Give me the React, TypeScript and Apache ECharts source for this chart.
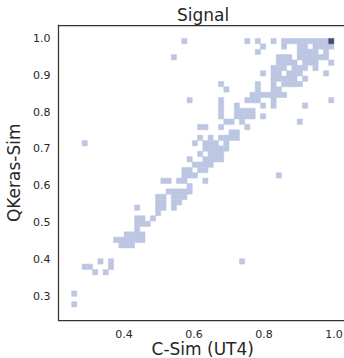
import React, { useEffect, useRef } from "react";
import * as echarts from "echarts";

// ---- Data ----
const TITLE = "Signal";
const X_LABEL = "C-Sim (UT4)";
const Y_LABEL = "QKeras-Sim";
const xTicks = [0.4, 0.6, 0.8, 1.0];
const yTicks = [0.3, 0.4, 0.5, 0.6, 0.7, 0.8, 0.9, 1.0];

// histogram bins (left/bottom edge of first bin and bin widths)
const X_EDGE0 = 0.25;
const X_BIN = 0.015;
const Y_EDGE0 = 0.27;
const Y_BIN = 0.0146;

// occupied bins: row index (y bin) -> list of column indices (x bins), count = 1
const rowCols: Record<number, number[]> = {
  0: [0],
  2: [0],
  6: [4, 6],
  7: [2, 3, 7],
  8: [5, 7, 32],
  11: [9, 10, 11],
  12: [8, 9, 10, 11, 12, 13],
  13: [10, 11, 12, 13],
  14: [12],
  15: [12, 13, 14],
  16: [12, 13, 15],
  17: [16],
  18: [12, 16, 17, 19],
  19: [16, 17, 19, 20],
  20: [16, 17, 19, 20, 21],
  21: [18, 19, 20, 21, 22],
  22: [22],
  23: [17, 18, 20, 21, 25],
  24: [21, 22, 23, 39],
  25: [21, 22, 24, 25],
  26: [23, 24, 25, 26],
  27: [22, 25, 26, 27, 28],
  28: [24, 26, 27, 28],
  29: [25, 26, 27, 28, 29],
  30: [2, 23, 25, 26, 27, 29],
  31: [24, 26, 28, 29, 30, 31],
  32: [30, 31],
  33: [24, 25, 28, 33],
  34: [29, 30, 32, 43],
  35: [28, 31, 32, 33, 34, 36],
  36: [28, 31, 32, 33, 34],
  37: [28, 31, 36, 38, 44],
  38: [22, 28, 33, 34, 35, 38, 49],
  39: [34, 35, 36, 37, 38, 39, 40],
  40: [29, 35, 38, 39],
  41: [28, 35, 38, 40, 41, 42, 43],
  42: [38, 39, 40, 41, 42, 44],
  43: [36, 38, 39, 41, 42, 43, 48],
  44: [38, 39, 40, 42, 43, 44, 46],
  45: [39, 40, 41, 42, 44, 45, 46, 49],
  46: [19, 39, 40, 41, 43, 44, 45, 46, 47, 48],
  47: [35, 43, 44, 45, 46, 48],
  48: [36, 40, 43, 44, 46, 47, 48, 49],
  49: [21, 33, 35, 38, 40, 41, 42, 43, 44, 45, 46, 47, 48],
};
// high-count bins: [col, row, count]
const peakCells: [number, number, number][] = [[49, 49, 8]];

const LIGHT = "#bcc6e2";
const DARK = "#434e6c";
const INK = "#262626";
const SPINE = "#333333";
const FONT = "DejaVu Sans";

export default function App() {
  const ref = useRef<HTMLDivElement>(null);
  useEffect(() => {
    if (!ref.current) return;
    const chart = echarts.init(ref.current, undefined, { renderer: "svg" });
    const data: number[][] = [];
    Object.keys(rowCols).forEach((k) => {
      const r = Number(k);
      rowCols[r].forEach((c) => {
        data.push([X_EDGE0 + c * X_BIN, Y_EDGE0 + r * Y_BIN, 1]);
      });
    });
    peakCells.forEach(([c, r, n]) => {
      data.push([X_EDGE0 + c * X_BIN, Y_EDGE0 + r * Y_BIN, n]);
    });
    const maxCount = Math.max(...data.map((d) => d[2]));

    const labelStyle = {
      margin: 8,
      fontSize: 11,
      color: INK,
      fontFamily: FONT,
      formatter: (v: number) => v.toFixed(1),
    };

    chart.setOption({
      animation: false,
      backgroundColor: "#ffffff",
      grid: {
        left: 58.5,
        top: 25,
        width: 288.5,
        height: 295.5,
        outerBoundsMode: "none",
        containLabel: false,
        show: false,
      },
      graphic: [
        {
          type: "text",
          x: 203,
          y: 14.5,
          style: {
            text: TITLE,
            align: "center",
            verticalAlign: "middle",
            fontSize: 17,
            fontFamily: FONT,
            fill: INK,
          },
        },
      ],
      visualMap: {
        show: false,
        dimension: 2,
        min: 1,
        max: maxCount,
        seriesIndex: 0,
        inRange: { color: [LIGHT, DARK] },
      },
      xAxis: [
        {
          type: "value",
          position: "bottom",
          min: 0.2125,
          max: 1.0375,
          name: X_LABEL,
          nameLocation: "middle",
          nameGap: 20,
          nameMoveOverlap: false,
          nameTextStyle: { fontSize: 17, color: INK, fontFamily: FONT },
          axisLine: { show: true, onZero: false, lineStyle: { color: SPINE, width: 1.25 } },
          axisTick: { show: false },
          splitLine: { show: false },
          axisLabel: { ...labelStyle, customValues: xTicks },
        },
        {
          type: "value",
          position: "top",
          min: 0.2125,
          max: 1.0375,
          axisLine: { show: true, onZero: false, lineStyle: { color: SPINE, width: 1.25 } },
          axisTick: { show: false },
          splitLine: { show: false },
          axisLabel: { show: false },
        },
      ],
      yAxis: {
        type: "value",
        min: 0.2335,
        max: 1.0365,
        name: Y_LABEL,
        nameLocation: "middle",
        nameGap: 34,
        nameRotate: 90,
        nameTextStyle: { fontSize: 17, color: INK, fontFamily: FONT },
        axisLine: { show: true, onZero: false, lineStyle: { color: SPINE, width: 1.25 } },
        axisTick: { show: false },
        splitLine: { show: false },
        axisLabel: { ...labelStyle, customValues: yTicks },
      },
      series: [
        {
          type: "custom",
          clip: false,
          xAxisIndex: 0,
          yAxisIndex: 0,
          data,
          encode: { x: 0, y: 1 },
          renderItem: (params: any, api: any) => {
            const x0 = api.value(0);
            const y0 = api.value(1);
            const p0 = api.coord([x0, y0]);
            const p1 = api.coord([x0 + X_BIN, y0 + Y_BIN]);
            const color = api.visual("color");
            return {
              type: "rect",
              shape: {
                x: p0[0],
                y: p1[1],
                width: p1[0] - p0[0],
                height: p0[1] - p1[1],
              },
              style: { fill: color, stroke: color, lineWidth: 0.5 },
            };
          },
        },
      ],
    });
    return () => chart.dispose();
  }, []);
  return (
    <div
      ref={ref}
      style={{ position: "fixed", left: 0, top: 0, width: 344, height: 358 }}
    />
  );
}
